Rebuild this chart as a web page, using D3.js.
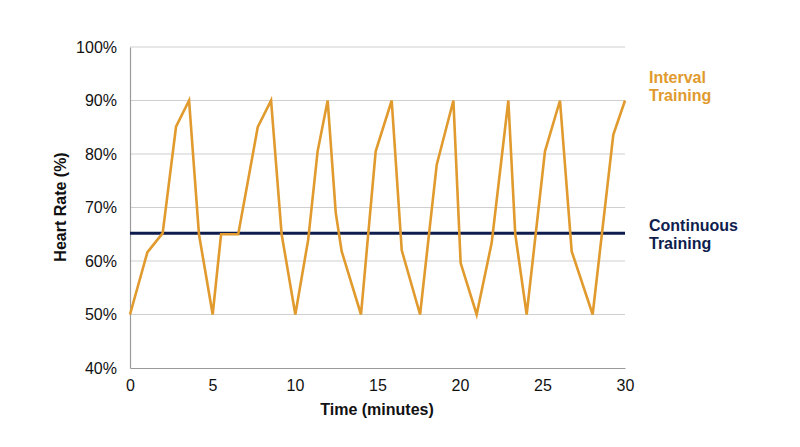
<!DOCTYPE html>
<html><head><meta charset="utf-8">
<script src="https://cdn.jsdelivr.net/npm/d3@7"></script>
<style>body{margin:0;background:#fff;}svg{display:block;font-family:"Liberation Sans",Arial,sans-serif;}</style>
</head><body>
<svg id="c" width="800" height="447"></svg>
<script>
const intervalTime = [0,1.05,1.98,2.79,3.58,4.18,5.01,5.52,6.56,7.74,8.55,9.19,10.02,10.8,11.37,11.98,12.47,12.83,14,14.89,15.86,16.47,17.58,18.59,19.6,20.04,21.01,21.92,22.93,23.35,24.04,25.15,26.06,26.77,28.04,29.29,30];
const intervalRate = [50,61.6,65.2,85.1,90,65,50,65,65,85,90,65,50,64,80.5,90,69,61.8,50,80.5,90,62,50,78,90,59.6,50,63.4,90,65,50,80.5,90,61.8,50,83.6,90];
const continuousTime = [0,30];
const continuousRate = [65.2,65.2];
const xTicks = [0,5,10,15,20,25,30];
const yTicks = [40,50,60,70,80,90,100];

const svg = d3.select("#c");
const x = d3.scaleLinear().domain([0,30]).range([130,625]);
const y = d3.scaleLinear().domain([40,100]).range([368,47]);

svg.append("g").selectAll("line").data(yTicks.slice(1)).join("line")
  .attr("x1",130).attr("x2",625).attr("y1",d=>y(d)).attr("y2",d=>y(d))
  .attr("stroke","#cfcfcf").attr("stroke-width",1.2);

const xa = svg.append("g").attr("transform","translate(0,368)")
  .call(d3.axisBottom(x).tickValues(xTicks).tickSize(0).tickPadding(12).tickFormat(d3.format("d")));
xa.select(".domain").attr("stroke","#9a9a9a").attr("stroke-width",1.2);
xa.selectAll("text").attr("font-size",16).attr("fill","#111").attr("font-family","Liberation Sans, Arial, sans-serif");

const ya = svg.append("g").attr("transform","translate(130,0)")
  .call(d3.axisLeft(y).tickValues(yTicks).tickSize(0).tickPadding(13).tickFormat(d=>d+"%"));
ya.select(".domain").attr("stroke","#9a9a9a").attr("stroke-width",1.2);
ya.selectAll("text").attr("font-size",16).attr("fill","#111").attr("font-family","Liberation Sans, Arial, sans-serif");

const line = d3.line().x(d=>x(d[0])).y(d=>y(d[1]));
svg.append("path").datum(continuousTime.map((t,i)=>[t,continuousRate[i]]))
  .attr("d",line).attr("fill","none").attr("stroke","#0e1d4d").attr("stroke-width",3);
svg.append("path").datum(intervalTime.map((t,i)=>[t,intervalRate[i]]))
  .attr("d",line).attr("fill","none").attr("stroke","#E09A2D").attr("stroke-width",2.6).attr("stroke-linejoin","miter");

svg.append("text").attr("x",377).attr("y",415).attr("text-anchor","middle")
  .attr("font-size",16).attr("font-weight","bold").attr("fill","#111").text("Time (minutes)");
svg.append("text").attr("transform","translate(66,207) rotate(-90)").attr("text-anchor","middle")
  .attr("font-size",16).attr("font-weight","bold").attr("fill","#111").text("Heart Rate (%)");

const lab = [["Interval",83,"#E09A2D"],["Training",101,"#E09A2D"],["Continuous",231,"#0e1d4d"],["Training",249,"#0e1d4d"]];
svg.append("g").selectAll("text").data(lab).join("text")
  .attr("x",649).attr("y",d=>d[1]).attr("font-size",16).attr("font-weight","bold")
  .attr("fill",d=>d[2]).text(d=>d[0]);
</script>
</body></html>
